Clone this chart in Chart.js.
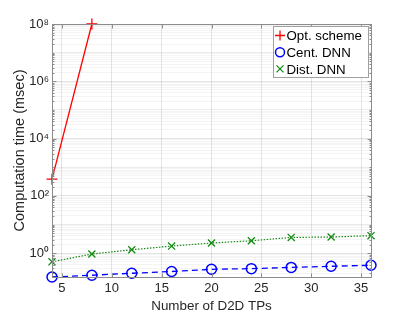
<!DOCTYPE html>
<html><head><meta charset="utf-8">
<script src="https://cdn.jsdelivr.net/npm/chart.js@4/dist/chart.umd.min.js"></script>
<style>html,body{margin:0;padding:0;background:#fff}#wrap{width:409px;height:314px}</style>
</head><body><div id="wrap"><canvas id="c" width="409" height="314"></canvas></div>
<script>
const xValues = [4, 8, 12, 16, 20, 24, 28, 32, 36];
const optX = [4, 8];
const optScheme = [385, 1e8];
const centDNN = [0.148, 0.17, 0.20, 0.23, 0.275, 0.29, 0.32, 0.35, 0.38];
const distDNN = [0.50, 0.94, 1.32, 1.78, 2.27, 2.72, 3.56, 3.67, 4.1];
const xTicks = [5, 10, 15, 20, 25, 30, 35];
const yTickValues = [1, 100, 1e4, 1e6, 1e8];
const yTickLabels = ['10\u2070', '10\u00B2', '10\u2074', '10\u2076', '10\u2078'];
const seriesNames = ['Opt. scheme', 'Cent. DNN', 'Dist. DNN'];

const FONT = 'Liberation Sans, Arial, Helvetica, sans-serif';

function isMajor(v){ return yTickValues.some(t => Math.abs(Math.log10(v) - Math.log10(t)) < 1e-6); }
function isDecade(v){ const l = Math.log10(v); return Math.abs(l - Math.round(l)) < 1e-6; }

const minorTicks = [];
for (let k = -1; k <= 7; k++) for (let m = 1; m <= 9; m++) minorTicks.push(Number((m * Math.pow(10, k)).toPrecision(3)));
minorTicks.push(1e8);

const boxPlugin = {
  id: 'boxLegend',
  afterDatasetsDraw(chart){
    const ctx = chart.ctx, a = chart.chartArea;
    const L = Math.round(a.left) + 0.5, R = Math.round(a.right) + 0.5, T = Math.round(a.top) + 0.5, B = Math.round(a.bottom) + 0.5;
    ctx.save();
    ctx.strokeStyle = '#8c8c8c'; ctx.lineWidth = 1;
    ctx.beginPath();
    chart.scales.y.ticks.forEach(t => {
      const y = Math.round(chart.scales.y.getPixelForValue(t.value)) + 0.5;
      const len = isMajor(t.value) ? 4 : 2;
      ctx.moveTo(L, y); ctx.lineTo(L + len, y);
      ctx.moveTo(R, y); ctx.lineTo(R - len, y);
    });
    chart.scales.x.ticks.forEach(t => {
      const x = Math.round(chart.scales.x.getPixelForValue(t.value)) + 0.5;
      ctx.moveTo(x, B); ctx.lineTo(x, B - 4);
      ctx.moveTo(x, T); ctx.lineTo(x, T + 4);
    });
    ctx.stroke();
    ctx.strokeRect(L, T, R - L, B - T);
    ctx.restore();
  },
  afterDraw(chart){
    const ctx = chart.ctx;
    const x0 = 273, y0 = 26, w = 95, h = 51;
    ctx.save();
    ctx.fillStyle = '#fff';
    ctx.fillRect(x0, y0, w, h);
    ctx.strokeStyle = '#a0a0a0'; ctx.lineWidth = 1;
    ctx.strokeRect(x0 + 0.5, y0 + 0.5, w, h);
    ctx.font = '13.3px ' + FONT;
    ctx.textBaseline = 'middle';
    chart.data.datasets.forEach((ds, i) => {
      const cy = y0 + 9.5 + i * 16.7, cx = x0 + 7;
      ctx.strokeStyle = ds.borderColor; ctx.lineWidth = 1.3;
      ctx.beginPath();
      if (ds.pointStyle === 'cross') { ctx.moveTo(cx-5, cy); ctx.lineTo(cx+5, cy); ctx.moveTo(cx, cy-5); ctx.lineTo(cx, cy+5); }
      else if (ds.pointStyle === 'circle') { ctx.lineWidth = 1.5; ctx.arc(cx, cy, 4.5, 0, Math.PI*2); }
      else { ctx.moveTo(cx-3.5, cy-3.5); ctx.lineTo(cx+3.5, cy+3.5); ctx.moveTo(cx+3.5, cy-3.5); ctx.lineTo(cx-3.5, cy+3.5); }
      ctx.stroke();
      ctx.fillStyle = '#000';
      ctx.fillText(ds.label, x0 + 13.5, cy + 1);
    });
    ctx.restore();
  }
};

new Chart(document.getElementById('c'), {
  type: 'line',
  data: {
    datasets: [
      { label: seriesNames[0], data: optX.map((x, i) => ({x, y: optScheme[i]})), borderColor: '#ff0000', backgroundColor: '#ff0000', borderWidth: 1.3, pointStyle: 'cross', pointRadius: 5.5, pointBorderWidth: 1.3, clip: false },
      { label: seriesNames[1], data: xValues.map((x, i) => ({x, y: centDNN[i]})), borderColor: '#0000ff', backgroundColor: 'rgba(0,0,0,0)', borderWidth: 1.3, borderDash: [6, 4], pointStyle: 'circle', pointRadius: 5, pointBorderWidth: 1.5, clip: false },
      { label: seriesNames[2], data: xValues.map((x, i) => ({x, y: distDNN[i]})), borderColor: '#148a14', backgroundColor: '#148a14', borderWidth: 1.2, borderDash: [1.5, 1.5], pointStyle: 'crossRot', pointRadius: 5, pointBorderWidth: 1.3, clip: false }
    ]
  },
  options: {
    responsive: false, animation: false,
    layout: { padding: { left: 0, right: 38, top: 24, bottom: 0 } },
    plugins: { legend: { display: false }, tooltip: { enabled: false } },
    scales: {
      x: {
        type: 'linear', min: 4, max: 36,
        afterBuildTicks: s => { s.ticks = xTicks.map(v => ({value: v})); },
        afterFit: s => { s.height = 37; },
        grid: { color: 'rgba(0,0,0,0.1)', drawTicks: false },
        border: { display: false },
        ticks: { font: { family: FONT, size: 13 }, color: '#262626', padding: 4, maxRotation: 0 },
        title: { display: true, text: 'Number of D2D TPs', font: { family: FONT, size: 13.4 }, color: '#262626', padding: { top: 0, bottom: 0 } }
      },
      y: {
        type: 'logarithmic', min: 0.148, max: 1e8,
        afterBuildTicks: s => { s.ticks = minorTicks.filter(v => v >= 0.148 && v <= 1e8).map(v => ({value: v})); },
        afterFit: s => { s.width = 52; },
        grid: { color: c => isMajor(c.tick.value) ? 'rgba(0,0,0,0.11)' : (isDecade(c.tick.value) ? 'rgba(0,0,0,0.08)' : 'rgba(0,0,0,0.045)'), drawTicks: false },
        border: { display: false },
        ticks: {
          autoSkip: false, font: { family: FONT, size: 13 }, color: '#262626', padding: 3,
          callback: v => { const i = yTickValues.findIndex(t => Math.abs(Math.log10(v) - Math.log10(t)) < 1e-6); return i >= 0 ? yTickLabels[i] : ''; }
        },
        title: { display: true, text: 'Computation time (msec)', font: { family: FONT, size: 14.5 }, color: '#262626', padding: { top: 11, bottom: 0 } }
      }
    }
  },
  plugins: [boxPlugin]
});
</script></body></html>
